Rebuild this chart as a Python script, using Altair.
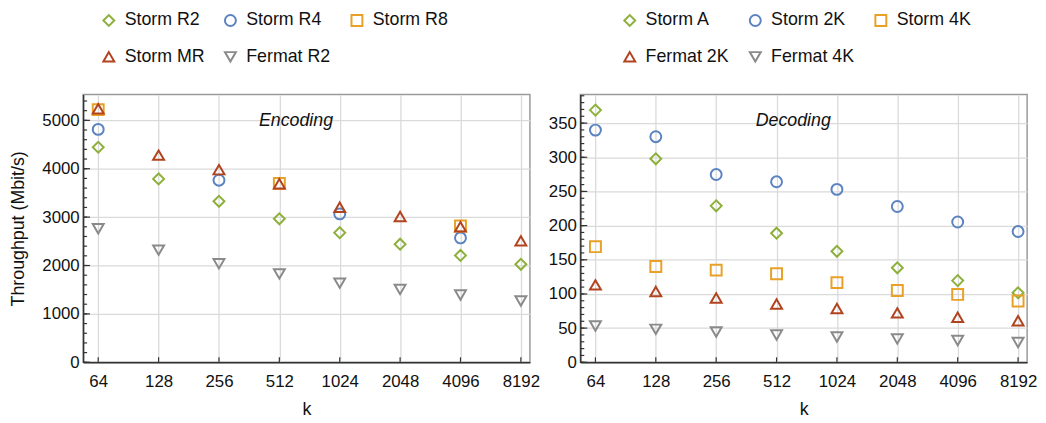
import altair as alt
import pandas as pd

# ---- data ----
ks = [64, 128, 256, 512, 1024, 2048, 4096, 8192]

enc_series = ["Storm R2", "Storm R4", "Storm R8", "Storm MR", "Fermat R2"]
enc_storm_r2 = [4444, 3790, 3327, 2965, 2679, 2440, 2209, 2025]
enc_storm_r4_k = [64, 256, 1024, 4096]
enc_storm_r4 = [4813, 3763, 3067, 2570]
enc_storm_r8_k = [64, 512, 4096]
enc_storm_r8 = [5222, 3695, 2815]
enc_storm_mr = [5240, 4281, 3981, 3690, 3204, 3013, 2800, 2509]
enc_fermat_r2 = [2761, 2318, 2038, 1827, 1636, 1506, 1391, 1268]

dec_series = ["Storm A", "Storm 2K", "Storm 4K", "Fermat 2K", "Fermat 4K"]
dec_storm_a = [369, 297.8, 228.9, 188.9, 162.4, 138.3, 119.5, 101.7]
dec_storm_2k = [339.8, 330.1, 274.7, 264.1, 253, 228, 205.3, 191.3]
dec_storm_4k = [169.2, 140.2, 134.9, 129.6, 116.6, 105.1, 99.3, 89.6]
dec_fermat_2k = [113.3, 103.6, 94, 85.3, 78.6, 72.3, 66, 60.7]
dec_fermat_4k = [53, 48.2, 44.3, 40, 37.1, 34.2, 31.8, 28.9]

enc_major = [0, 1000, 2000, 3000, 4000, 5000]
enc_minor = list(range(0, 5501, 200))
dec_major = [0, 50, 100, 150, 200, 250, 300, 350]
dec_minor = list(range(0, 391, 10))

enc_label = ["Encoding"]
dec_label = ["Decoding"]
ann_k = [620]
enc_ann_v = [4990]
dec_ann_v = [353]

colors = ["#8DB03A", "#5B83C2", "#E8A126", "#B2431F", "#8A8A8A"]
shapes = ["diamond", "circle", "square", "triangle-up", "triangle-down"]

W, H = 452, 271


def long_df(series, pairs):
    rows = []
    for s, (kk, vv) in zip(series, pairs):
        for k, v in zip(kk, vv):
            rows.append({"s": s, "k": k, "v": v})
    return pd.DataFrame(rows)


enc_df = long_df(enc_series, [(ks, enc_storm_r2), (enc_storm_r4_k, enc_storm_r4),
                              (enc_storm_r8_k, enc_storm_r8), (ks, enc_storm_mr),
                              (ks, enc_fermat_r2)])
dec_df = long_df(dec_series, [(ks, dec_storm_a), (ks, dec_storm_2k), (ks, dec_storm_4k),
                              (ks, dec_fermat_2k), (ks, dec_fermat_4k)])

DARK = "#333333"


def panel(df, series, ymax, major, minor, label, ann_v, ytitle, legend_x):
    xscale = alt.Scale(type="log", base=2, domain=[2 ** 5.75, 2 ** 13.15], nice=False)
    yscale = alt.Scale(domain=[0, ymax], nice=False, zero=True)
    leg = alt.Legend(orient="none", legendX=legend_x, legendY=-84, columns=3,
                     title=None, direction="horizontal")
    xaxis = alt.Axis(values=ks, format="d", title="k", grid=True, tickSize=0,
                     labelPadding=12, titlePadding=11)
    if ytitle:
        yaxis = alt.Axis(values=major, format="d", title=ytitle, grid=True, tickSize=0,
                         labelPadding=4, titlePadding=15)
    else:
        yaxis = alt.Axis(values=major, format="d", title=None, grid=True, tickSize=0,
                         labelPadding=4)

    X = lambda: alt.X("k:Q", scale=xscale, axis=xaxis)
    Y = lambda: alt.Y("v:Q", scale=yscale, axis=yaxis)

    points = alt.Chart(df).mark_point(filled=False, strokeWidth=2, size=122, opacity=1).encode(
        x=X(), y=Y(),
        color=alt.Color("s:N", scale=alt.Scale(domain=series, range=colors), legend=leg),
        shape=alt.Shape("s:N", scale=alt.Scale(domain=series, range=shapes), legend=leg),
    )

    ymaj = alt.Chart(pd.DataFrame({"v": major})).mark_rule(color=DARK, strokeWidth=1.2).encode(
        y=Y(), x=alt.value(0), x2=alt.value(7))
    ymin = alt.Chart(pd.DataFrame({"v": minor})).mark_rule(color=DARK, strokeWidth=1.2).encode(
        y=Y(), x=alt.value(0), x2=alt.value(4))
    xt = alt.Chart(pd.DataFrame({"k": ks})).mark_rule(color=DARK, strokeWidth=1.2).encode(
        x=X(), y=alt.value(H), y2=alt.value(H - 5))

    ann = alt.Chart(pd.DataFrame({"k": ann_k, "v": ann_v, "label": label})).mark_text(
        font="Liberation Sans", fontSize=18, fontStyle="italic", color="#111").encode(
        x=X(), y=Y(), text="label:N")

    return alt.layer(points, ymin, ymaj, xt, ann).properties(width=W, height=H)


left = panel(enc_df, enc_series, 5536, enc_major, enc_minor, enc_label, enc_ann_v,
             "Throughput (Mbit/s)", 17)
right = panel(dec_df, dec_series, 392, dec_major, dec_minor, dec_label, dec_ann_v,
              None, 41)

chart = alt.hconcat(left, right, spacing=6).resolve_scale(
    color="independent", shape="independent", x="independent", y="independent"
).properties(
    padding={"left": 0, "top": 0, "right": 0, "bottom": 0}
).configure_view(
    stroke="#9a9a9a", strokeWidth=1.5
).configure_axis(
    labelFont="Liberation Sans", labelFontSize=17, labelColor="#111",
    titleFont="Liberation Sans", titleFontSize=18, titleFontWeight="normal", titleColor="#111",
    gridColor="#dadada", gridWidth=1.3, domainColor=DARK, domainWidth=1.5
).configure_legend(
    labelFont="Liberation Sans", labelFontSize=18, labelColor="#111",
    symbolSize=122, symbolStrokeWidth=2, rowPadding=18, columnPadding=16,
    labelOffset=7, padding=0
)

chart.save("out.html", embed_options={"renderer": "svg", "actions": False})
